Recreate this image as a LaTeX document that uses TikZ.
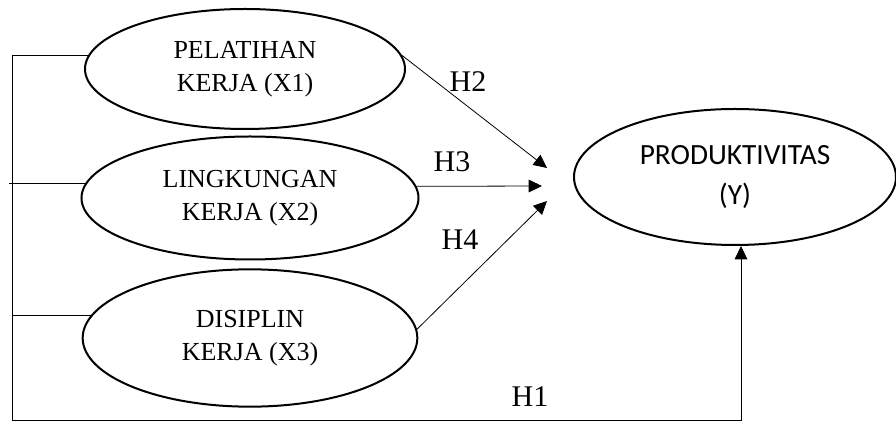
\documentclass[tikz,border=0pt]{standalone}
\usepackage{fontspec}
\setmainfont{Liberation Serif}
\newfontfamily\calfont{Carlito}
\usetikzlibrary{positioning,arrows.meta,shapes.geometric}

\begin{document}
\begin{tikzpicture}[
  x=0.75pt,y=-0.75pt,
  line cap=butt,line join=miter,
  >={Triangle[length=10pt,width=9.5pt]},
  var/.style={ellipse,draw,line width=1.5pt,inner sep=0pt,align=center,
    font=\fontsize{19.5}{24.75}\selectfont},
  link/.style={draw,line width=0.6pt},
  hyp/.style={inner sep=0pt,font=\fontsize{22.5}{24}\selectfont}
]
  \path[use as bounding box] (0,0) rectangle (896,423);

  \node[var,minimum width=240pt,minimum height=90pt] (x1) at (245,69) {PELATIHAN\\KERJA (X1)};
  \node[var,minimum width=252.75pt,minimum height=92.25pt] (x2) at (250,198) {LINGKUNGAN\\KERJA (X2)};
  \node[var,minimum width=251pt,minimum height=103pt] (x3) at (250,338) {DISIPLIN\\KERJA (X3)};
  \node[var,minimum width=241.5pt,minimum height=102pt,
    font=\calfont\fontsize{22}{30}\selectfont] (y) at (735,177) {PRODUKTIVITAS\\(Y)};

  \coordinate (h2tip) at (547,168);
  \coordinate (h3tip) at (542,186);
  \coordinate (h4tip) at (547,201);
  \coordinate (lt) at (12,57);
  \coordinate (lb) at (12,420);

  \draw[link,->] (x1.5) -- (h2tip);
  \draw[link,->] (x2.4) -- (h3tip);
  \draw[link,->] (x3.3) -- (h4tip);

  \draw[link] (x1.175.6) -- (x1.175.6 -| lt) -- (lb);
  \draw[link] (x2.175) -- ([xshift=-2.25pt]x2.175 -| lt);
  \draw[link] (x3.172.6) -- (x3.172.6 -| lt);
  \draw[link,->] (lb) -| ([xshift=4.5pt]y.south);

  \node[hyp] (h2) at (468,82) {H2};
  \node[hyp] (h3) at (452,162) {H3};
  \node[hyp] (h4) at (460,240) {H4};
  \node[hyp] (h1) at (530,397) {H1};
\end{tikzpicture}
\end{document}
